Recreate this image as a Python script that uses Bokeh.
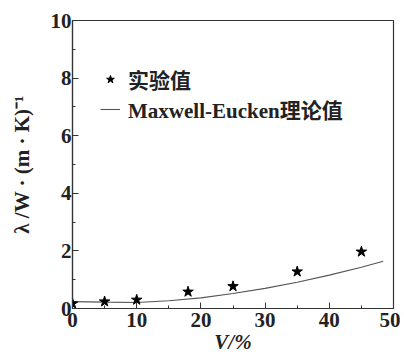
from bokeh.plotting import figure
from bokeh.models import Legend, LegendItem, FixedTicker, Range1d
from bokeh.embed import file_html
from bokeh.resources import INLINE

v_exp = [0, 5, 10, 18, 25, 35, 45]
lam_exp = [0.17, 0.24, 0.30, 0.58, 0.77, 1.28, 1.97]
v_me = [0, 5, 10, 15, 20, 25, 30, 35, 40, 45, 48.4]
lam_me = [0.24, 0.22, 0.21, 0.27, 0.37, 0.52, 0.70, 0.91, 1.16, 1.43, 1.64]
x_ticks = [0, 10, 20, 30, 40, 50]
y_ticks = [0, 2, 4, 6, 8, 10]
label_exp = "实验值"
label_me = "Maxwell-Eucken理论值"

SERIF = "Liberation Serif, Noto Sans CJK SC"

p = figure(width=400, height=352, output_backend="svg", toolbar_location=None,
           x_range=Range1d(0, 50), y_range=Range1d(0, 10),
           min_border_left=72, min_border_right=7, min_border_top=20, min_border_bottom=44)
p.frame_width = 321
p.frame_height = 288
p.grid.visible = False
p.outline_line_color = "#333333"
p.outline_line_width = 1.2
p.background_fill_color = "white"
p.border_fill_color = "white"

r_line = p.line(v_me, lam_me, line_color="#555555", line_width=1.1)
r_star = p.scatter(v_exp, lam_exp, marker="star", size=11, fill_color="black", line_color="black")

for ax in (p.xaxis[0], p.yaxis[0]):
    ax.major_tick_in = 6
    ax.major_tick_out = 0
    ax.minor_tick_in = 3
    ax.minor_tick_out = 0
    ax.axis_line_color = "#333333"
    ax.axis_line_width = 1.2
    ax.major_tick_line_color = "#333333"
    ax.minor_tick_line_color = "#333333"
    ax.major_label_text_font = SERIF
    ax.major_label_text_font_style = "bold"
    ax.major_label_text_font_size = "21px"
    ax.major_label_text_color = "#222222"
    ax.axis_label_text_font = SERIF
    ax.axis_label_text_font_style = "bold"
    ax.axis_label_text_color = "#222222"

p.xaxis[0].ticker = FixedTicker(ticks=x_ticks, minor_ticks=[5, 15, 25, 35, 45])
p.yaxis[0].ticker = FixedTicker(ticks=y_ticks, minor_ticks=[1, 3, 5, 7, 9])
p.xaxis[0].major_label_standoff = 4
p.yaxis[0].major_label_standoff = 1
p.xaxis[0].axis_label = "V/%"
p.xaxis[0].axis_label_text_font_style = "bold italic"
p.xaxis[0].axis_label_text_font_size = "21px"
p.xaxis[0].axis_label_standoff = 0
p.yaxis[0].axis_label = "λ /W · (m · K)⁻¹"
p.yaxis[0].axis_label_text_font_size = "21px"
p.yaxis[0].axis_label_standoff = 14

legend = Legend(items=[LegendItem(label=label_exp, renderers=[r_star]),
                       LegendItem(label=label_me, renderers=[r_line])],
                location=(28, 184), orientation="vertical")
legend.border_line_color = None
legend.background_fill_alpha = 0
legend.margin = 0
legend.padding = 0
legend.spacing = -9
legend.glyph_width = 20
legend.glyph_height = 20
legend.label_height = 20
legend.label_standoff = 8
legend.label_text_font = SERIF
legend.label_text_font_style = "bold"
legend.label_text_font_size = "21px"
legend.label_text_color = "#222222"
p.add_layout(legend)

open("out.html", "w").write(file_html(p, INLINE))
